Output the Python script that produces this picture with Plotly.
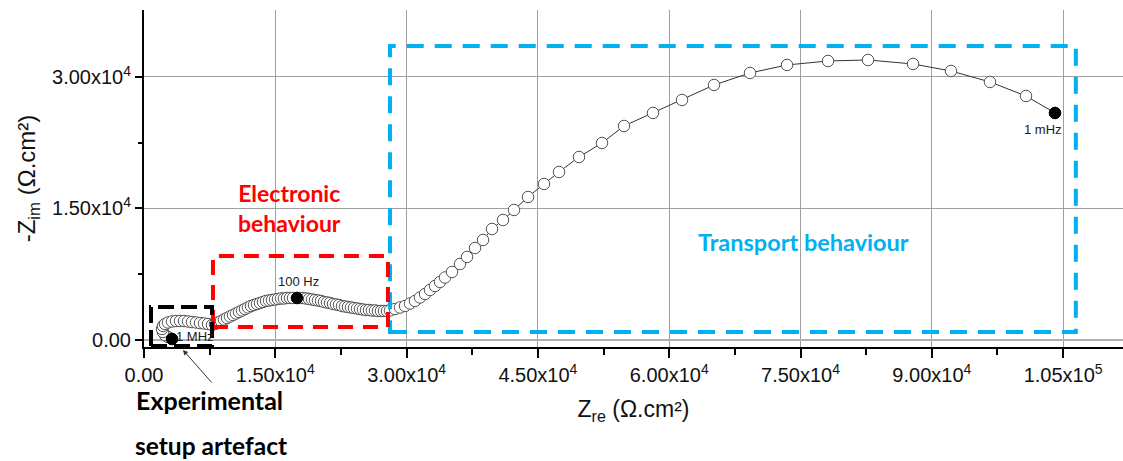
import plotly.graph_objects as go

# ---------------- data ----------------
z_re = [3199, 2742, 2399, 2171, 2056, 2171, 2399, 2742, 3199, 3656, 4113, 4570,
        5027, 5484, 5940, 6397, 6854, 7311, 7768,
        8111, 8454, 8796, 9139, 9482, 9825, 10167, 10510, 10853, 11196, 11538,
        11881, 12224, 12566, 12909, 13252, 13595, 13937, 14280, 14623, 14965,
        15308, 15651, 15994, 16336, 16679, 17022, 17479,
        17821, 18164, 18507, 18850, 19192, 19535, 19878, 20220, 20563, 20906,
        21249, 21591, 21934, 22277, 22620, 22962, 23305, 23648, 23990, 24333,
        24676, 25019, 25361, 25704, 26047, 26389, 26732, 27075, 27418, 27760,
        28103, 28674, 29245, 29817, 30388, 30959, 31530, 32101, 32673, 33244,
        33815, 34386, 35186, 36100, 36900, 37813, 38727, 39756, 41012, 42269,
        43868, 45696, 47410, 49694, 52322, 54835, 58148, 61461, 65117, 69229,
        73456, 78140, 82710, 87851, 92192, 96647, 100760, 104073]
z_im = [114, 342, 570, 913, 1255, 1597, 1825, 1996, 2110, 2167, 2167, 2167,
        2110, 2053, 1996, 1939, 1882, 1825, 1711,
        1825, 1996, 2167, 2338, 2510, 2681, 2852, 3023, 3194, 3365, 3536,
        3707, 3878, 3992, 4107, 4221, 4335, 4449, 4506, 4563, 4620,
        4677, 4734, 4734, 4791, 4791, 4791, 4791,
        4791, 4791, 4734, 4677, 4620, 4563, 4506, 4449, 4335, 4278,
        4221, 4107, 4049, 3992, 3878, 3821, 3764, 3707, 3650, 3593,
        3536, 3479, 3422, 3422, 3365, 3365, 3308, 3308, 3308, 3308,
        3365, 3536, 3707, 3878, 4164, 4449, 4848, 5247, 5704, 6160,
        6616, 7129, 7757, 8669, 9468, 10494, 11407, 12662, 13688, 14829,
        16312, 17795, 19164, 20875, 22472, 24411, 25894, 27377, 29088, 30457,
        31369, 31826, 31940, 31483, 30685, 29430, 27833, 25894]

freq_labels = ["1 MHz", "100 Hz", "1 mHz"]
freq_re = [3199, 17479, 104073]
freq_im = [114, 4791, 25894]

x_tickvals = [0, 15000, 30000, 45000, 60000, 75000, 90000, 105000]
x_ticktext = ["0.00", "1.50x10<sup>4</sup>", "3.00x10<sup>4</sup>", "4.50x10<sup>4</sup>",
              "6.00x10<sup>4</sup>", "7.50x10<sup>4</sup>", "9.00x10<sup>4</sup>",
              "1.05x10<sup>5</sup>"]
x_minor = [7500, 22500, 37500, 52500, 67500, 82500, 97500]
y_tickvals = [0, 15000, 30000]
y_ticktext = ["0.00", "1.50x10<sup>4</sup>", "3.00x10<sup>4</sup>"]
y_minor = [7500, 22500]

# regions (data units)
box_artefact = [800, 7770, -684, 3764]
box_electronic = [7880, 27870, 1480, 9580]
box_transport = [28100, 106450, 910, 33540]

# ---------------- figure ----------------
W, H = 1123, 461
L, R, T, B = 144, 0, 10, 114
pw, ph = W - L - R, H - T - B

def px(x):
    return (x - L) / pw

def py(y):
    return (H - B - y) / ph

fig = go.Figure()
fig.add_trace(go.Scatter(
    x=z_re, y=z_im, mode="lines+markers",
    line=dict(color="#333333", width=1),
    marker=dict(symbol="circle", size=11.5, color="white",
                line=dict(color="#555555", width=1)),
    showlegend=False, hoverinfo="x+y"))
fig.add_trace(go.Scatter(
    x=freq_re, y=freq_im, mode="markers",
    marker=dict(symbol="circle", size=11.5, color="black",
                line=dict(color="black", width=1)),
    showlegend=False, text=freq_labels))

BLUE = "#00b0f0"
RED = "#ff0000"

for box, col, dash in [(box_transport, BLUE, "17px,11px"),
                       (box_electronic, RED, "15px,10px"),
                       (box_artefact, "black", "16px,7px")]:
    fig.add_shape(type="rect", xref="x", yref="y",
                  x0=box[0], x1=box[1], y0=box[2], y1=box[3],
                  line=dict(color=col, width=4, dash=dash),
                  fillcolor="rgba(0,0,0,0)", layer="above")

tick_font = dict(family="Liberation Sans, Arial, sans-serif", size=20, color="#111111")
title_font = dict(family="Liberation Sans, Arial, sans-serif", size=23, color="#111111")

fig.update_layout(
    width=W, height=H,
    margin=dict(l=L, r=R, t=T, b=B, pad=0),
    paper_bgcolor="white", plot_bgcolor="white",
    xaxis=dict(range=[0, 111840], tickmode="array", tickvals=x_tickvals,
               ticktext=x_ticktext, showgrid=True, gridcolor="#a0a0a0", gridwidth=1,
               zeroline=False, showline=True, linecolor="black", linewidth=2,
               ticks="outside", ticklen=9, tickwidth=1.5, tickcolor="black",
               tickfont=tick_font,
               minor=dict(tickmode="array", tickvals=x_minor, ticks="outside",
                          ticklen=6, tickwidth=1.5, tickcolor="black", showgrid=False),
               title=dict(text="Z<sub>re</sub> (Ω.cm²)", font=title_font, standoff=16)),
    yaxis=dict(range=[-800, 37640], tickmode="array", tickvals=y_tickvals,
               ticktext=y_ticktext, showgrid=True, gridcolor="#a0a0a0", gridwidth=1,
               zeroline=True, zerolinecolor="#b0b0b0", zerolinewidth=2,
               showline=True, linecolor="black", linewidth=2,
               ticks="outside", ticklen=7, tickwidth=1.5, tickcolor="black",
               tickfont=tick_font,
               minor=dict(tickmode="array", tickvals=y_minor, ticks="outside",
                          ticklen=4, tickwidth=1.5, tickcolor="black", showgrid=False),
               title=dict(text="-Z<sub>im</sub> (Ω.cm²)", font=dict(title_font, size=24),
                          standoff=10)),
)

# frequency labels next to the filled points
label_font = dict(family="Liberation Sans, Arial, sans-serif", size=13, color="#1a1a1a")
shifts = [(23, 2), (1, 16), (-12, -17)]
for lab, xr, yi, (dx, dy) in zip(freq_labels, freq_re, freq_im, shifts):
    fig.add_annotation(x=xr, y=yi, xref="x", yref="y", text=lab, showarrow=False,
                       xshift=dx, yshift=dy, font=label_font,
                       xanchor="center", yanchor="middle")

bold = "Lato, Carlito, Calibri, sans-serif"
fig.add_annotation(xref="paper", yref="paper", x=px(289), y=py(208), text="<b>Electronic<br>behaviour</b>",
                   showarrow=False, font=dict(family=bold, size=23, color=RED), align="center",
                   xanchor="center", yanchor="middle")
fig.add_annotation(xref="paper", yref="paper", x=px(803), y=py(242), text="<b>Transport behaviour</b>",
                   showarrow=False, font=dict(family=bold, size=23.5, color=BLUE),
                   xanchor="center", yanchor="middle")
fig.add_annotation(xref="paper", yref="paper", x=px(134), y=py(400), text="<b>Experimental</b>",
                   xanchor="left", yanchor="middle", showarrow=False,
                   font=dict(family=bold, size=25, color="black"))
fig.add_annotation(xref="paper", yref="paper", x=px(133), y=py(445), text="<b>setup artefact</b>",
                   xanchor="left", yanchor="middle", showarrow=False,
                   font=dict(family=bold, size=24.5, color="black"))
# arrow pointing to the artefact
fig.add_annotation(xref="paper", yref="paper", x=px(183), y=py(350), text="",
                   showarrow=True, ax=30, ay=34, arrowhead=2, arrowsize=1,
                   arrowwidth=1, arrowcolor="#333333")

fig.write_html("out.html")
